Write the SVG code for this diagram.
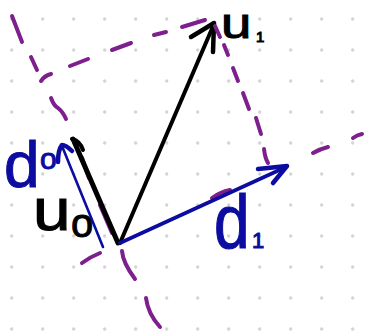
<svg xmlns="http://www.w3.org/2000/svg" width="367" height="333" viewBox="0 0 367 333">
<style>
.guide{fill:none;stroke:#7d1f8d;stroke-width:4;stroke-linecap:round;stroke-linejoin:round}
.blk{fill:none;stroke:#000;stroke-linecap:round;stroke-linejoin:round}
.blu{fill:none;stroke:#0c0ca0;stroke-linecap:round;stroke-linejoin:round}
.lb{font-family:"Liberation Sans",Arial,sans-serif;font-weight:normal}
.lbk{fill:#000;stroke:#000;stroke-width:1}
.lbb{fill:#0c0ca0;stroke:#0c0ca0;stroke-width:1}
</style>
<defs>
<pattern id="dots" patternUnits="userSpaceOnUse" x="0" y="0" width="31" height="31">
<circle cx="11.7" cy="19" r="1.7" fill="#d4d4d4"/>
</pattern>
</defs>
<rect width="367" height="333" fill="#fff"/>
<rect width="367" height="333" fill="url(#dots)"/>

<g id="guides-under">
<path class="guide" d="M82,158 L89,178"/>
<path class="guide" d="M100,205 L112,233"/>
<path class="guide" d="M212,198 Q220,192 230,190"/>
</g>

<g id="connectors">
<g id="u0">
<path class="blk" stroke-width="5" d="M118,243 L73,139"/>
<path class="blk" stroke-width="4" d="M72,139 Q80,141 83,150"/>
</g>
<g id="d0">
<path class="blu" stroke-width="2.6" d="M103,247 L62,146"/>
<path class="blu" stroke-width="4.5" d="M72,151 Q66,145 62,145 Q58,150 58,162"/>
</g>
<g id="u1">
<path class="blk" stroke-width="4" d="M120,243 L214,24"/>
<path class="blk" stroke-width="4.5" d="M191,37 L214,23 L213,52"/>
</g>
<g id="d1">
<path class="blu" stroke-width="3.6" d="M120,243 L286,167"/>
<path class="blu" stroke-width="4.5" d="M258,169 L287,166 L273,183"/>
</g>
</g>

<g id="guides">
<path class="guide" d="M12,16 L22,42"/>
<path class="guide" d="M31,57 L37,70"/>
<path class="guide" d="M51,98 Q54,106 58,108 Q63,112 66,119"/>
<path class="guide" d="M122,251 Q123,263 135,279"/>
<path class="guide" d="M146,298 Q148,314 160,327"/>
<path class="guide" d="M41,81 Q44,76 51,74"/>
<path class="guide" d="M70,66 L88,59"/>
<path class="guide" d="M112,50 L131,43"/>
<path class="guide" d="M154,35 L166,32"/>
<path class="guide" d="M182,27 L205,20"/>
<path class="guide" d="M215,26 L220,37"/>
<path class="guide" d="M224,45 L228,55"/>
<path class="guide" d="M233,68 L238,81"/>
<path class="guide" d="M243,93 L249,109"/>
<path class="guide" d="M256,118 L261,134"/>
<path class="guide" d="M264,149 Q265,158 268,163"/>
<path class="guide" d="M82,263 Q90,257 100,253"/>
<path class="guide" d="M313,153 Q320,149 328,147"/>
<path class="guide" d="M353,138 Q357,135 362,134"/>
</g>

<g id="label-u1">
<text class="lb lbk" transform="translate(221,38) scale(1.3,1)" font-size="42">u</text>
<text class="lb lbk" x="256" y="42" font-size="15">1</text>
</g>
<g id="label-u0">
<text class="lb lbk" transform="translate(33,230) scale(1.25,1.1)" font-size="54">u</text>
<text class="lb lbk" x="71" y="237" font-size="40">o</text>
</g>
<g id="label-d0">
<text class="lb lbb" x="4" y="187" font-size="64">d</text>
<text class="lb lbb" x="40" y="169" font-size="30">o</text>
</g>
<g id="label-d1">
<text class="lb lbb" transform="translate(214,248) scale(1,1.2)" font-size="64">d</text>
<text class="lb lbb" x="252" y="248" font-size="22">1</text>
</g>
</svg>
